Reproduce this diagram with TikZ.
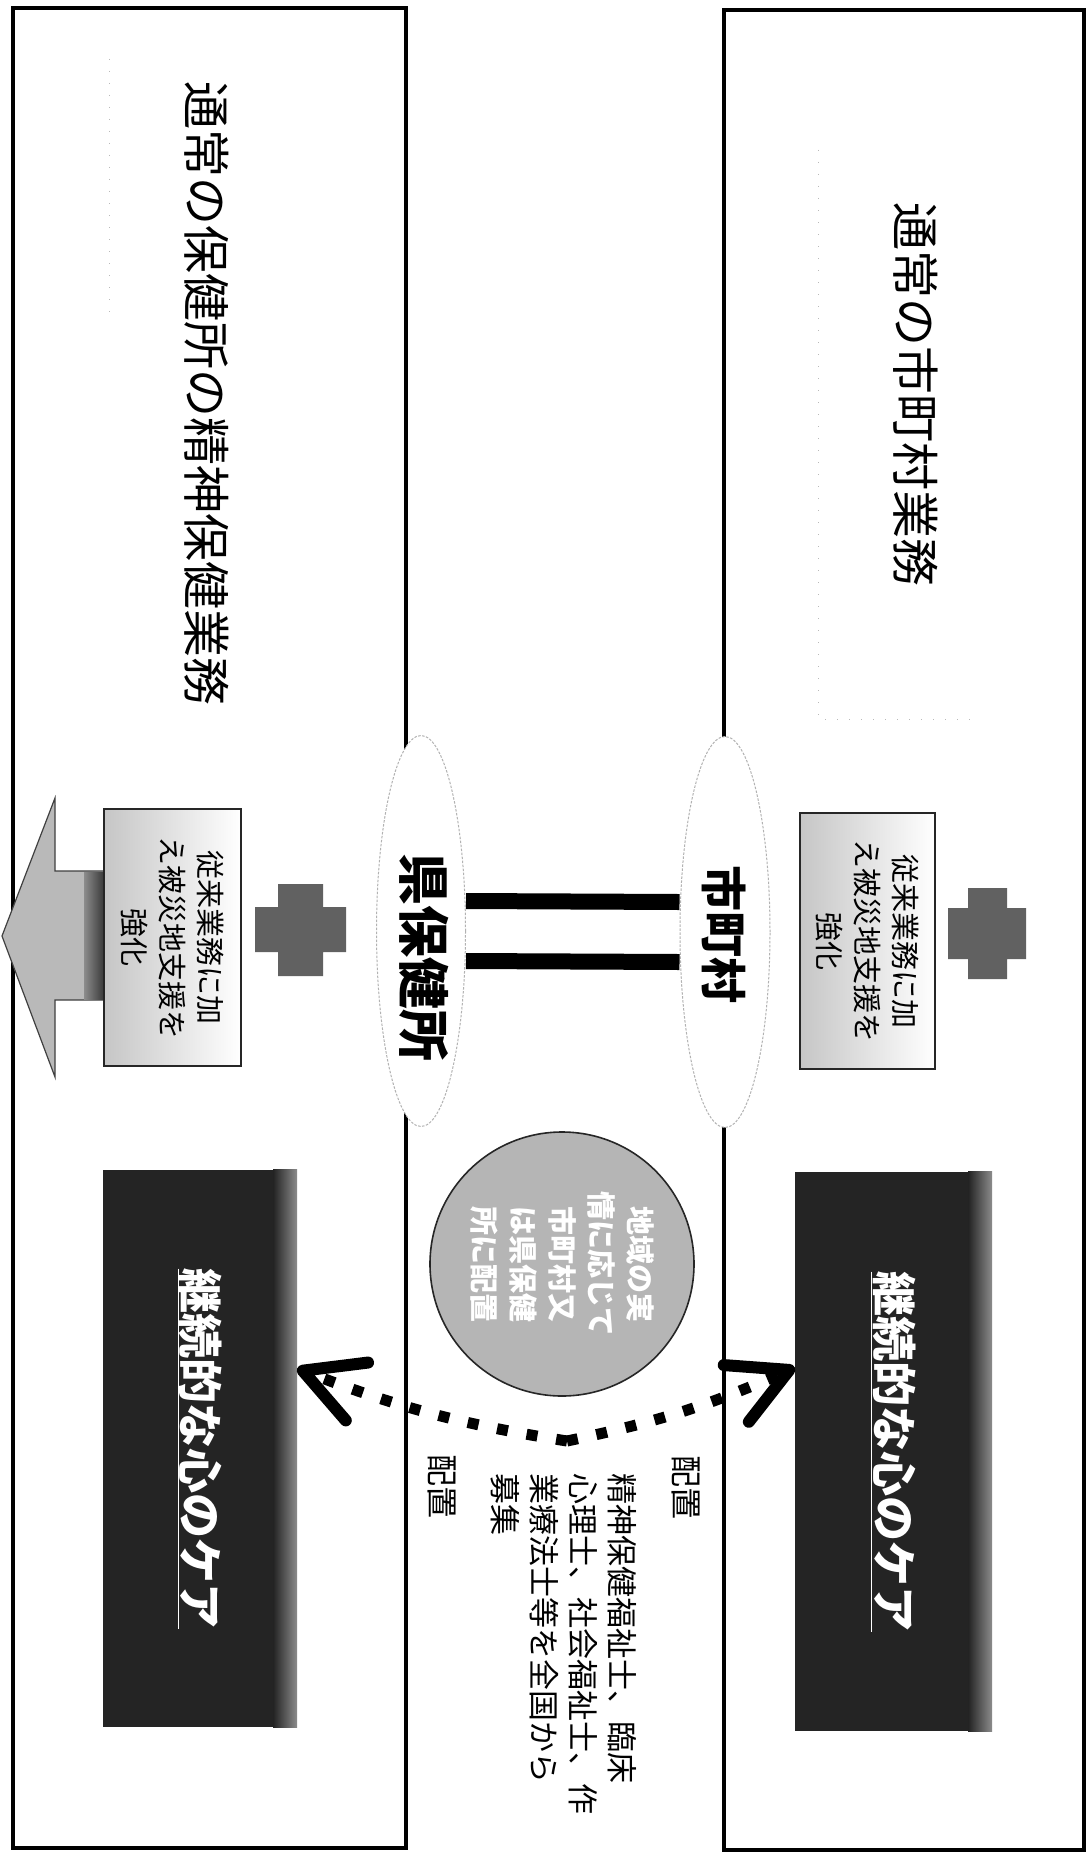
\documentclass[tikz,border=0pt]{standalone}
\usepackage{fontspec}
\setmainfont{Noto Sans CJK JP}
\usetikzlibrary{arrows.meta,shapes.geometric,calc}
\begin{document}
\begin{tikzpicture}[x=1pt,y=-1pt,
  frame/.style={draw=black,line width=4pt,anchor=north west,inner sep=0,outer sep=0},
  ell/.style={ellipse,draw=gray!60,line width=1pt,dash pattern=on 2.5pt off 1.5pt,fill=white,inner sep=0},
  ttl/.style={rotate=-90,inner sep=0,font=\fontsize{48}{52}\selectfont},
  big/.style={rotate=-90,inner sep=0,font=\bfseries\fontsize{#1}{#1}\selectfont},
  sbox/.style={draw=black!85,line width=1.2pt,left color=gray!45,right color=white,inner sep=0},
  stxt/.style={rotate=-90,align=center,inner sep=0,font=\fontsize{29}{38}\selectfont},
  darkbox/.style={fill=black!86,inner sep=0},
  dtxt/.style={rotate=-90,inner sep=0,text=white,font=\bfseries\fontsize{45}{48}\selectfont},
  plusfill/.style={fill=black!62},
  dotarrow/.style={line width=11pt,dash pattern=on 11pt off 19pt,
     -{Straight Barb[length=58pt,width=62pt,line width=12pt,round]}},
  lbl/.style={rotate=-90,inner sep=0,font=\fontsize{32}{34}\selectfont},
  faint/.style={draw=gray!55,line width=0.9pt,dash pattern=on 1pt off 11pt}
]
\useasboundingbox (0,0) rectangle (1088,1854);
\fill[white] (0,0) rectangle (1088,1854);

% faint guide traces
\draw[faint] (109,59) -- (109,320);
\draw[faint] (818,150) -- (818,719) -- (973,719);

% outer frames
\node[frame,minimum width=393pt,minimum height=1840pt] (lbox) at (13,8) {};
\node[frame,minimum width=360pt,minimum height=1840pt] (rbox) at (724,10) {};

% titles
\node[ttl] (ltitle) at (207,394) {通常の保健所の精神保健業務};
\node[ttl] (rtitle) at (916,394) {通常の市町村業務};

% ellipses and link bars
\node[ell,minimum width=89pt,minimum height=391pt] (ken) at (421,931) {};
\node[ell,minimum width=90pt,minimum height=391pt] (shi) at (725,932) {};
\draw[line width=16pt] ([yshift=30pt]ken.east) -- ([yshift=30pt]shi.west);
\draw[line width=16pt] ([yshift=-30pt]ken.east) -- ([yshift=-30pt]shi.west);
\node[big=52] (kentxt) at (424,957) {県保健所};
\node[big=46] (shitxt) at (724,934) {市町村};

% big left arrow
\filldraw[fill=gray!55,draw=black!75,line width=1.2pt]
  (104,871) -- (55,871) -- (55,798) -- (2,936) -- (55,1077) -- (55,1000) -- (104,1000) -- cycle;
\shade[left color=black!45,right color=black!78] (84,872) rectangle (104,999);

% small boxes
\node[sbox,minimum width=137pt,minimum height=257pt] (lsb) at (172.5,937.5) {};
\node[stxt] (lsbt) at (lsb.center) {従来業務に加\\え被災地支援を\\強化};
\node[sbox,minimum width=135pt,minimum height=256pt] (rsb) at (867.5,941) {};
\node[stxt] (rsbt) at (rsb.center) {従来業務に加\\え被災地支援を\\強化};

% plus signs
\fill[plusfill] (255,907) rectangle (346,952) (278,884) rectangle (323,976);
\fill[plusfill] (948,908) rectangle (1026,959) (968,888) rectangle (1007,979);

% dark boxes
\node[darkbox,minimum width=194pt,minimum height=557pt] (ldk) at (200,1448.5) {};
\shade[left color=black!86,right color=black!45] ([xshift=-24pt]ldk.north east) rectangle (ldk.south east);
\node[dtxt] (ldkt) at (ldk.center) {\underline{継続的な心のケア}};
\node[darkbox,minimum width=197pt,minimum height=559pt] (rdk) at (893.5,1451.5) {};
\shade[left color=black!86,right color=black!45] ([xshift=-24pt]rdk.north east) rectangle (rdk.south east);
\node[dtxt] (rdkt) at (rdk.center) {\underline{継続的な心のケア}};

% circle
\node[circle,minimum size=264pt,fill=gray!58,draw=black!85,line width=1.6pt,inner sep=0] (circ) at (562,1264) {};
\node[rotate=-90,align=center,inner sep=0,text=white,font=\bfseries\fontsize{29}{39}\selectfont] (circt) at (circ.center)
  {地域の実\\情に応じて\\市町村又\\は県保健\\所に配置};

% dotted arrows
\coordinate (src) at (567,1441);
\draw[dotarrow] (src) to[bend left=6] ([yshift=80pt]ldk.east);
\draw[dotarrow] (src) to[bend right=6] ([yshift=84pt]rdk.west);

% labels
\node[lbl] (hl) at (442,1486) {配置};
\node[lbl] (hr) at (686,1487) {配置};
\node[rotate=-90,anchor=north west,align=left,inner sep=0,font=\fontsize{31}{39}\selectfont] (rec) at (637,1473)
  {精神保健福祉士、臨床\\心理士、社会福祉士、作\\業療法士等を全国から\\募集};
\end{tikzpicture}
\end{document}
